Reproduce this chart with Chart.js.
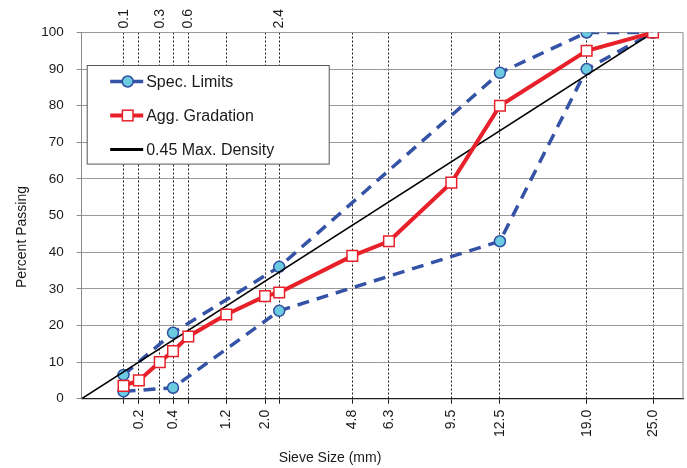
<!DOCTYPE html>
<html>
<head>
<meta charset="utf-8">
<script src="https://cdn.jsdelivr.net/npm/chart.js@4.4.1/dist/chart.umd.min.js"></script>
<style>
  html, body { margin: 0; padding: 0; background: #fff; }
</style>
</head>
<body>
<canvas id="gradationChart" width="687" height="468"></canvas>
<script>
// sieve sizes (mm) and the labels printed for them
const sieveSizes = [0.075, 0.15, 0.3, 0.425, 0.6, 1.18, 2.0, 2.36, 4.75, 6.3, 9.5, 12.5, 19.0, 25.0];
const bottomLabels = ['', '0.2', '', '0.4', '', '1.2', '2.0', '', '4.8', '6.3', '9.5', '12.5', '19.0', '25.0'];
const topLabels = ['0.1', '', '0.3', '', '0.6', '', '', '2.4', '', '', '', '', '', ''];
const yTicks = [0, 10, 20, 30, 40, 50, 60, 70, 80, 90, 100];

// control points
const specSizes = [0.075, 0.425, 2.36, 12.5, 19.0, 25.0];
const specUpper = [6.5, 18, 36, 89, 100, 100];
const specLower = [2, 3, 24, 43, 90, 100];

// gradation of the blend, one value per sieve
const aggGradation = [3.5, 5, 10, 13, 17, 23, 28, 29, 39, 43, 59, 80, 95, 100];

// 0.45 power max density line
const densitySizes = [0, 25.0];
const densityPassing = [0, 100];

const POWER = 0.45;
const pw = (s) => Math.pow(s, POWER);
const toPoints = (sizes, vals) => sizes.map((s, i) => ({ x: pw(s), y: vals[i] }));

Chart.defaults.font.family = "'Liberation Sans', Arial, sans-serif";
Chart.defaults.color = '#1a1a1a';

const BLUE = '#3553a6';
const RED = '#e8202a';

const specStyle = {
  borderColor: BLUE,
  borderWidth: 3.5,
  borderDash: [12, 8],
  pointStyle: 'circle',
  pointRadius: 5.5,
  pointBackgroundColor: '#6ccbe0',
  pointBorderColor: '#2f4f9f',
  pointBorderWidth: 1.5,
  fill: false,
  tension: 0
};

const sieveTicks = (scale) => {
  scale.ticks = sieveSizes.map((s) => ({ value: pw(s) }));
};

const legendBox = {
  id: 'legendBox',
  afterDraw(chart) {
    const { ctx, chartArea } = chart;
    const items = chart.data.datasets.filter((d) => d.label);
    const x = chartArea.left + 5.5;
    const y = chartArea.top + 33;

    ctx.save();
    ctx.fillStyle = '#ffffff';
    ctx.fillRect(x, y, 242, 98.6);
    ctx.strokeStyle = '#555555';
    ctx.lineWidth = 1;
    ctx.strokeRect(x, y, 242, 98.6);

    items.forEach((ds, i) => {
      const cy = y + 16 + i * 34;
      ctx.beginPath();
      ctx.setLineDash([]);
      ctx.strokeStyle = ds.borderColor;
      ctx.lineWidth = ds.legendWidth || ds.borderWidth;
      ctx.moveTo(x + 23, cy);
      ctx.lineTo(x + 56, cy);
      ctx.stroke();

      const mx = x + 40.5;
      if (ds.pointStyle === 'circle' && ds.pointRadius > 0) {
        ctx.beginPath();
        ctx.arc(mx, cy, ds.pointRadius, 0, Math.PI * 2);
        ctx.fillStyle = ds.pointBackgroundColor;
        ctx.fill();
        ctx.lineWidth = ds.pointBorderWidth;
        ctx.strokeStyle = ds.pointBorderColor;
        ctx.stroke();
      } else if (ds.pointStyle === 'rect' && ds.pointRadius > 0) {
        const h = ds.pointRadius * Math.SQRT1_2;
        ctx.fillStyle = ds.pointBackgroundColor;
        ctx.fillRect(mx - h, cy - h, 2 * h, 2 * h);
        ctx.lineWidth = ds.pointBorderWidth;
        ctx.strokeStyle = ds.pointBorderColor;
        ctx.strokeRect(mx - h, cy - h, 2 * h, 2 * h);
      }

      ctx.fillStyle = '#1a1a1a';
      ctx.font = "16px 'Liberation Sans', Arial, sans-serif";
      ctx.textBaseline = 'middle';
      ctx.textAlign = 'left';
      ctx.fillText(ds.label, x + 59, cy + 1);
    });
    ctx.restore();
  }
};

// frame on the right side + axis titles
const frameAndTitles = {
  id: 'frameAndTitles',
  beforeDatasetsDraw(chart) {
    const { ctx, chartArea } = chart;
    ctx.save();
    ctx.strokeStyle = '#8a8a8a';
    ctx.lineWidth = 1;
    ctx.beginPath();
    ctx.moveTo(chartArea.right, chartArea.top);
    ctx.lineTo(chartArea.right, chartArea.bottom);
    ctx.stroke();
    ctx.restore();
  },
  afterDraw(chart) {
    const { ctx } = chart;
    ctx.save();
    ctx.fillStyle = '#1a1a1a';
    ctx.font = "14px 'Liberation Sans', Arial, sans-serif";
    ctx.textAlign = 'center';
    ctx.textBaseline = 'middle';
    ctx.fillText('Sieve Size (mm)', 330, 458);
    ctx.translate(22, 237);
    ctx.rotate(-Math.PI / 2);
    ctx.fillText('Percent Passing', 0, 0);
    ctx.restore();
  }
};

const fitX = (h) => (scale) => {
  scale.height = h;
  scale.paddingLeft = 0;
  scale.paddingRight = 0;
};

const ctx = document.getElementById('gradationChart').getContext('2d');

const chart = new Chart(ctx, {
  type: 'line',
  data: {
    datasets: [
      {
        label: 'Spec. Limits',
        data: toPoints(specSizes, specUpper),
        order: 2,
        ...specStyle
      },
      {
        label: '',
        data: toPoints(specSizes, specLower),
        order: 3,
        ...specStyle
      },
      {
        label: 'Agg. Gradation',
        data: toPoints(sieveSizes, aggGradation),
        order: 0,
        borderColor: RED,
        borderWidth: 4,
        pointStyle: 'rect',
        pointRadius: 7.5,
        pointBackgroundColor: '#ffffff',
        pointBorderColor: RED,
        pointBorderWidth: 1.5,
        fill: false,
        tension: 0
      },
      {
        label: '0.45 Max. Density',
        data: toPoints(densitySizes, densityPassing),
        order: 1,
        borderColor: '#000000',
        borderWidth: 1.5,
        legendWidth: 3,
        pointRadius: 0,
        pointStyle: false,
        fill: false
      }
    ]
  },
  options: {
    responsive: false,
    animation: false,
    layout: {
      autoPadding: false,
      padding: { left: 0, right: 4, top: 0, bottom: 0 }
    },
    plugins: {
      legend: { display: false },
      tooltip: { enabled: false }
    },
    scales: {
      x: {
        type: 'linear',
        position: 'bottom',
        min: 0,
        max: 4.48,
        afterBuildTicks: sieveTicks,
        afterFit: fitX(69.3),
        ticks: {
          autoSkip: false,
          minRotation: 90,
          maxRotation: 90,
          padding: 6,
          font: { size: 14 },
          callback: (value, index) => bottomLabels[index]
        },
        grid: {
          color: '#1a1a1a',
          lineWidth: 1,
          tickLength: 5
        },
        border: {
          color: '#222222',
          width: 1.3,
          dash: [2, 2]
        }
      },
      xTop: {
        type: 'linear',
        axis: 'x',
        position: 'top',
        min: 0,
        max: 4.48,
        afterBuildTicks: sieveTicks,
        afterFit: fitX(32.5),
        ticks: {
          autoSkip: false,
          minRotation: 90,
          maxRotation: 90,
          padding: 4,
          labelOffset: 17,
          font: { size: 14 },
          callback: (value, index) => topLabels[index]
        },
        grid: { display: false, drawTicks: false },
        border: { display: false }
      },
      y: {
        min: 0,
        max: 100,
        afterBuildTicks: (scale) => { scale.ticks = yTicks.map((v) => ({ value: v })); },
        afterFit: (scale) => {
          scale.width = 81.7;
          scale.paddingTop = 0;
          scale.paddingBottom = 0;
        },
        ticks: {
          padding: 13,
          font: { size: 13.5 }
        },
        grid: {
          color: (c) => (c.tick && c.tick.value === 0 ? 'rgba(0,0,0,0)' : '#9a9a9a'),
          tickColor: '#8a8a8a',
          tickLength: 5
        },
        border: { color: '#8a8a8a' }
      }
    }
  },
  plugins: [frameAndTitles, legendBox]
});
</script>
</body>
</html>
